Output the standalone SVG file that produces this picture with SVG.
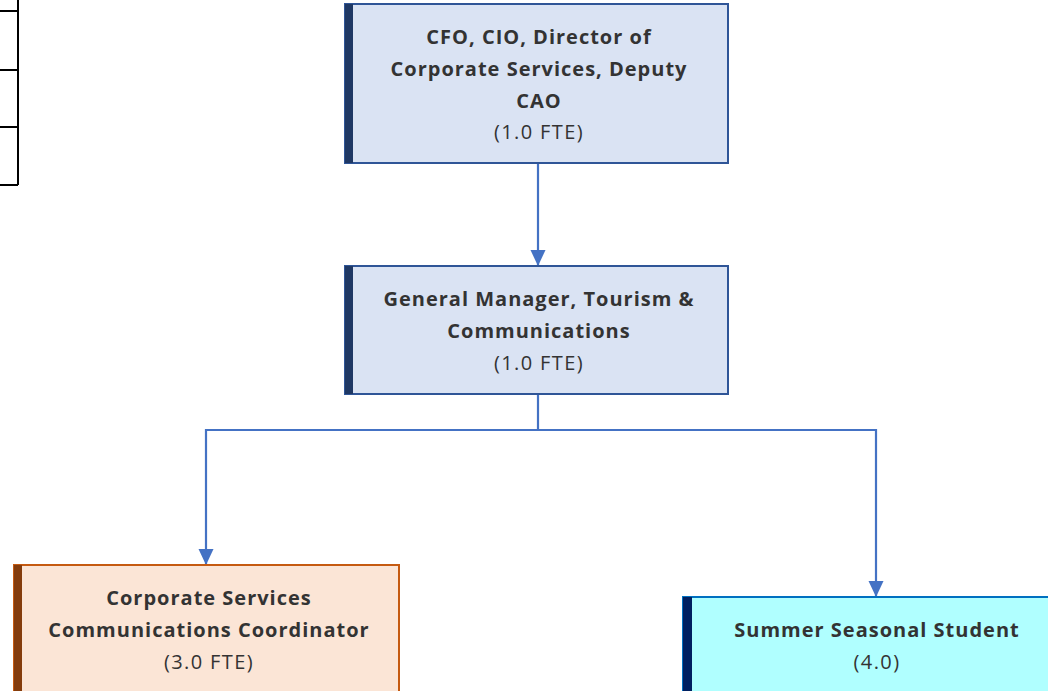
<svg xmlns="http://www.w3.org/2000/svg" width="1048" height="691" viewBox="0 0 1048 691">
<style>
.t{font-family:"Open Sans","Liberation Sans",sans-serif;font-size:20px;fill:#333333;text-anchor:middle;letter-spacing:1.4px}
.b{font-weight:bold;letter-spacing:1px}
.c{fill:none;stroke:#4472C4;stroke-width:2.2}
</style>
<defs>
<marker id="ah" markerWidth="16" markerHeight="16" refX="15" refY="8" orient="auto" markerUnits="userSpaceOnUse" viewBox="0 0 16 16">
<path d="M0,0.5 L16,8 L0,15.5 Z" fill="#4472C4"/>
</marker>
</defs>
<rect width="1048" height="691" fill="#ffffff"/>
<g id="table" fill="none" stroke="#000" stroke-width="2">
<line x1="18" y1="0" x2="18" y2="185"/>
<line x1="0" y1="11" x2="18" y2="11"/>
<line x1="0" y1="70" x2="18" y2="70"/>
<line x1="0" y1="127" x2="18" y2="127"/>
<line x1="0" y1="185" x2="18" y2="185"/>
</g>
<g id="connectors">
<path class="c" d="M538,163 V265" marker-end="url(#ah)"/>
<path class="c" d="M538,394 V430 H206 V564" marker-end="url(#ah)"/>
<path class="c" d="M538,430 H876 V596" marker-end="url(#ah)"/>
</g>
<g id="cfo">
<rect x="345" y="4" width="383" height="159" fill="#DAE3F3" stroke="#2F5597" stroke-width="2"/>
<rect x="345" y="4" width="8" height="159" fill="#1F3864"/>
<text class="t b" x="539" y="44">CFO, CIO, Director of</text>
<text class="t b" x="539" y="76">Corporate Services, Deputy</text>
<text class="t b" x="539" y="108">CAO</text>
<text class="t" x="539" y="139">(1.0 FTE)</text>
</g>
<g id="gm">
<rect x="345" y="266" width="383" height="128" fill="#DAE3F3" stroke="#2F5597" stroke-width="2"/>
<rect x="345" y="266" width="8" height="128" fill="#1F3864"/>
<text class="t b" x="539" y="306">General Manager, Tourism &amp;</text>
<text class="t b" x="539" y="338">Communications</text>
<text class="t" x="539" y="370">(1.0 FTE)</text>
</g>
<g id="coord">
<rect x="14" y="565" width="385" height="130" fill="#FBE5D6" stroke="#C55A11" stroke-width="2"/>
<rect x="14" y="565" width="8" height="130" fill="#843C0C"/>
<text class="t b" x="209" y="605">Corporate Services</text>
<text class="t b" x="209" y="637">Communications Coordinator</text>
<text class="t" x="209" y="669">(3.0 FTE)</text>
</g>
<g id="student">
<rect x="683" y="597" width="370" height="100" fill="#B0FFFF" stroke="#0070C0" stroke-width="2"/>
<rect x="683" y="597" width="9" height="100" fill="#002060"/>
<text class="t b" x="877" y="637">Summer Seasonal Student</text>
<text class="t" x="877" y="669">(4.0)</text>
</g>
</svg>
